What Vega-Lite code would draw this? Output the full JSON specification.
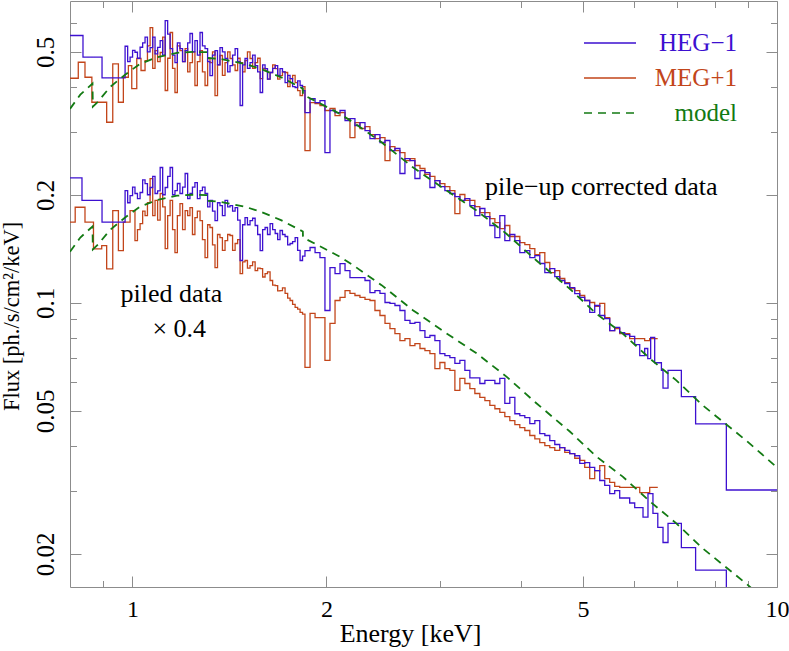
{
"$schema": "https://vega.github.io/schema/vega-lite/v6.json",
"width": 707, "height": 586, "autosize": "none",
"padding": {"left": 70, "top": 1, "right": 12, "bottom": 64},
"background": "white",
"datasets": {
"d": [
{"s":"MEG+1","g":"t","E":0.800,"F":0.4222},{"s":"MEG+1","g":"t","E":0.824,"F":0.4678},{"s":"MEG+1","g":"t","E":0.844,"F":0.4249},{"s":"MEG+1","g":"t","E":0.865,"F":0.3620},{"s":"MEG+1","g":"t","E":0.912,"F":0.3184},{"s":"MEG+1","g":"t","E":0.932,"F":0.4631},{"s":"MEG+1","g":"t","E":0.951,"F":0.3620},{"s":"MEG+1","g":"t","E":0.968,"F":0.4249},{"s":"MEG+1","g":"t","E":0.9855,"F":0.4581},{"s":"MEG+1","g":"t","E":0.9975,"F":0.3953},{"s":"MEG+1","g":"t","E":1.0155,"F":0.4792},{"s":"MEG+1","g":"t","E":1.031,"F":0.4437},{"s":"MEG+1","g":"t","E":1.046,"F":0.4730},{"s":"MEG+1","g":"t","E":1.065,"F":0.5845},{"s":"MEG+1","g":"t","E":1.084,"F":0.5044},{"s":"MEG+1","g":"t","E":1.104,"F":0.4980},{"s":"MEG+1","g":"t","E":1.124,"F":0.3903},{"s":"MEG+1","g":"t","E":1.144,"F":0.5662},{"s":"MEG+1","g":"t","E":1.164,"F":0.3853},{"s":"MEG+1","g":"t","E":1.185,"F":0.5044},{"s":"MEG+1","g":"t","E":1.207,"F":0.5109},{"s":"MEG+1","g":"t","E":1.228,"F":0.4670},{"s":"MEG+1","g":"t","E":1.250,"F":0.4030},{"s":"MEG+1","g":"t","E":1.273,"F":0.5044},{"s":"MEG+1","g":"t","E":1.296,"F":0.4030},{"s":"MEG+1","g":"t","E":1.319,"F":0.4670},{"s":"MEG+1","g":"t","E":1.343,"F":0.3779},{"s":"MEG+1","g":"t","E":1.367,"F":0.4885},{"s":"MEG+1","g":"t","E":1.392,"F":0.4670},{"s":"MEG+1","g":"t","E":1.417,"F":0.4792},{"s":"MEG+1","g":"t","E":1.443,"F":0.4437},{"s":"MEG+1","g":"t","E":1.469,"F":0.4670},{"s":"MEG+1","g":"t","E":1.495,"F":0.4730},{"s":"MEG+1","g":"t","E":1.522,"F":0.4792},{"s":"MEG+1","g":"t","E":1.550,"F":0.4670},{"s":"MEG+1","g":"t","E":1.578,"F":0.4214},{"s":"MEG+1","g":"t","E":1.606,"F":0.4437},{"s":"MEG+1","g":"t","E":1.635,"F":0.4381},{"s":"MEG+1","g":"t","E":1.665,"F":0.4494},{"s":"MEG+1","g":"t","E":1.694,"F":0.4296},{"s":"MEG+1","g":"t","E":1.725,"F":0.4381},{"s":"MEG+1","g":"t","E":1.756,"F":0.4214},{"s":"MEG+1","g":"t","E":1.788,"F":0.4108},{"s":"MEG+1","g":"t","E":1.820,"F":0.3779},{"s":"MEG+1","g":"t","E":1.852,"F":0.2656},{"s":"MEG+1","g":"t","E":1.886,"F":0.3613},{"s":"MEG+1","g":"t","E":1.920,"F":0.3591},{"s":"MEG+1","g":"t","E":1.954,"F":0.3545},{"s":"MEG+1","g":"t","E":1.989,"F":0.3433},{"s":"MEG+1","g":"t","E":2.025,"F":0.3478},{"s":"MEG+1","g":"t","E":2.062,"F":0.3324},{"s":"MEG+1","g":"t","E":2.099,"F":0.3389},{"s":"MEG+1","g":"t","E":2.137,"F":0.3261},{"s":"MEG+1","g":"t","E":2.175,"F":0.2887},{"s":"MEG+1","g":"t","E":2.214,"F":0.3178},{"s":"MEG+1","g":"t","E":2.254,"F":0.3059},{"s":"MEG+1","g":"t","E":2.295,"F":0.3098},{"s":"MEG+1","g":"t","E":2.336,"F":0.2943},{"s":"MEG+1","g":"t","E":2.378,"F":0.2868},{"s":"MEG+1","g":"t","E":2.421,"F":0.2887},{"s":"MEG+1","g":"t","E":2.465,"F":0.2491},{"s":"MEG+1","g":"t","E":2.509,"F":0.2725},{"s":"MEG+1","g":"t","E":2.554,"F":0.2656},{"s":"MEG+1","g":"t","E":2.600,"F":0.2622},{"s":"MEG+1","g":"t","E":2.647,"F":0.2491},{"s":"MEG+1","g":"t","E":2.695,"F":0.2523},{"s":"MEG+1","g":"t","E":2.743,"F":0.2413},{"s":"MEG+1","g":"t","E":2.793,"F":0.2367},{"s":"MEG+1","g":"t","E":2.843,"F":0.2278},{"s":"MEG+1","g":"t","E":2.894,"F":0.2249},{"s":"MEG+1","g":"t","E":2.946,"F":0.2191},{"s":"MEG+1","g":"t","E":2.999,"F":0.2149},{"s":"MEG+1","g":"t","E":3.053,"F":0.2108},{"s":"MEG+1","g":"t","E":3.108,"F":0.2055},{"s":"MEG+1","g":"t","E":3.164,"F":0.1773},{"s":"MEG+1","g":"t","E":3.221,"F":0.2003},{"s":"MEG+1","g":"t","E":3.279,"F":0.1928},{"s":"MEG+1","g":"t","E":3.338,"F":0.1928},{"s":"MEG+1","g":"t","E":3.398,"F":0.1854},{"s":"MEG+1","g":"t","E":3.459,"F":0.1784},{"s":"MEG+1","g":"t","E":3.522,"F":0.1784},{"s":"MEG+1","g":"t","E":3.585,"F":0.1717},{"s":"MEG+1","g":"t","E":3.650,"F":0.1673},{"s":"MEG+1","g":"t","E":3.715,"F":0.1610},{"s":"MEG+1","g":"t","E":3.782,"F":0.1642},{"s":"MEG+1","g":"t","E":3.850,"F":0.1530},{"s":"MEG+1","g":"t","E":3.920,"F":0.1530},{"s":"MEG+1","g":"t","E":3.990,"F":0.1472},{"s":"MEG+1","g":"t","E":4.062,"F":0.1453},{"s":"MEG+1","g":"t","E":4.135,"F":0.1416},{"s":"MEG+1","g":"t","E":4.210,"F":0.1363},{"s":"MEG+1","g":"t","E":4.285,"F":0.1380},{"s":"MEG+1","g":"t","E":4.363,"F":0.1295},{"s":"MEG+1","g":"t","E":4.441,"F":0.1214},{"s":"MEG+1","g":"t","E":4.521,"F":0.1230},{"s":"MEG+1","g":"t","E":4.602,"F":0.1169},{"s":"MEG+1","g":"t","E":4.685,"F":0.1139},{"s":"MEG+1","g":"t","E":4.769,"F":0.1096},{"s":"MEG+1","g":"t","E":4.855,"F":0.1082},{"s":"MEG+1","g":"t","E":4.943,"F":0.1048},{"s":"MEG+1","g":"t","E":5.031,"F":0.1015},{"s":"MEG+1","g":"t","E":5.122,"F":0.1002},{"s":"MEG+1","g":"t","E":5.214,"F":0.0977},{"s":"MEG+1","g":"t","E":5.309,"F":0.0996},{"s":"MEG+1","g":"t","E":5.404,"F":0.0910},{"s":"MEG+1","g":"t","E":5.501,"F":0.0837},{"s":"MEG+1","g":"t","E":5.600,"F":0.0848},{"s":"MEG+1","g":"t","E":5.701,"F":0.0821},{"s":"MEG+1","g":"t","E":5.804,"F":0.0821},{"s":"MEG+1","g":"t","E":5.908,"F":0.0795},{"s":"MEG+1","g":"t","E":6.015,"F":0.0795},{"s":"MEG+1","g":"t","E":6.124,"F":0.0795},{"s":"MEG+1","g":"t","E":6.233,"F":0.0785},{"s":"MEG+1","g":"t","E":6.346,"F":0.0795},{"s":"MEG+1","g":"t","E":6.530,"F":0.0795},
{"s":"MEG+1","g":"t","E":1.055,"F":0.52},{"s":"MEG+1","g":"t","E":1.075,"F":0.45},{"s":"MEG+1","g":"t","E":1.094,"F":0.47},{"s":"MEG+1","g":"t","E":1.114,"F":0.55},{"s":"MEG+1","g":"t","E":1.134,"F":0.48},{"s":"MEG+1","g":"t","E":1.154,"F":0.45},{"s":"MEG+1","g":"t","E":1.174,"F":0.52},{"s":"MEG+1","g":"t","E":1.196,"F":0.47},{"s":"MEG+1","g":"t","E":1.218,"F":0.44},{"s":"MEG+1","g":"t","E":1.239,"F":0.50},{"s":"MEG+1","g":"t","E":1.261,"F":0.47},{"s":"MEG+1","g":"t","E":1.284,"F":0.44},{"s":"MEG+1","g":"t","E":1.308,"F":0.48},{"s":"MEG+1","g":"t","E":1.331,"F":0.50},{"s":"MEG+1","g":"t","E":1.355,"F":0.46},{"s":"MEG+1","g":"t","E":1.379,"F":0.43},{"s":"MEG+1","g":"t","E":1.405,"F":0.50},{"s":"MEG+1","g":"t","E":1.430,"F":0.46},{"s":"MEG+1","g":"t","E":1.456,"F":0.48},{"s":"MEG+1","g":"t","E":1.482,"F":0.44},{"s":"MEG+1","g":"t","E":1.508,"F":0.50},{"s":"MEG+1","g":"t","E":1.536,"F":0.45},{"s":"MEG+1","g":"t","E":1.564,"F":0.48},{"s":"MEG+1","g":"t","E":1.592,"F":0.45},{"s":"MEG+1","g":"t","E":1.620,"F":0.42},{"s":"MEG+1","g":"t","E":1.650,"F":0.46},{"s":"MEG+1","g":"t","E":1.680,"F":0.42},{"s":"MEG+1","g":"t","E":1.709,"F":0.44},{"s":"MEG+1","g":"t","E":1.741,"F":0.40},{"s":"MEG+1","g":"t","E":1.772,"F":0.43},{"s":"MEG+1","g":"t","E":1.804,"F":0.39},{"s":"MEG+1","g":"t","E":1.836,"F":0.40},
{"s":"MEG+1","g":"b","E":0.800,"F":0.1677},{"s":"MEG+1","g":"b","E":0.815,"F":0.1846},{"s":"MEG+1","g":"b","E":0.844,"F":0.1677},{"s":"MEG+1","g":"b","E":0.870,"F":0.1414},{"s":"MEG+1","g":"b","E":0.896,"F":0.1444},{"s":"MEG+1","g":"b","E":0.912,"F":0.1243},{"s":"MEG+1","g":"b","E":0.932,"F":0.1807},{"s":"MEG+1","g":"b","E":0.951,"F":0.1398},{"s":"MEG+1","g":"b","E":0.968,"F":0.1677},{"s":"MEG+1","g":"b","E":0.9915,"F":0.1807},{"s":"MEG+1","g":"b","E":1.009,"F":0.1491},{"s":"MEG+1","g":"b","E":1.0276,"F":0.1663},{"s":"MEG+1","g":"b","E":1.046,"F":0.1750},{"s":"MEG+1","g":"b","E":1.065,"F":0.2219},{"s":"MEG+1","g":"b","E":1.084,"F":0.1928},{"s":"MEG+1","g":"b","E":1.104,"F":0.2016},{"s":"MEG+1","g":"b","E":1.124,"F":0.1416},{"s":"MEG+1","g":"b","E":1.144,"F":0.1928},{"s":"MEG+1","g":"b","E":1.164,"F":0.1380},{"s":"MEG+1","g":"b","E":1.185,"F":0.1890},{"s":"MEG+1","g":"b","E":1.207,"F":0.1807},{"s":"MEG+1","g":"b","E":1.228,"F":0.1842},{"s":"MEG+1","g":"b","E":1.250,"F":0.1728},{"s":"MEG+1","g":"b","E":1.273,"F":0.1695},{"s":"MEG+1","g":"b","E":1.296,"F":0.1337},{"s":"MEG+1","g":"b","E":1.319,"F":0.1621},{"s":"MEG+1","g":"b","E":1.343,"F":0.1254},{"s":"MEG+1","g":"b","E":1.367,"F":0.1520},{"s":"MEG+1","g":"b","E":1.392,"F":0.1491},{"s":"MEG+1","g":"b","E":1.417,"F":0.1540},{"s":"MEG+1","g":"b","E":1.443,"F":0.1463},{"s":"MEG+1","g":"b","E":1.469,"F":0.1206},{"s":"MEG+1","g":"b","E":1.495,"F":0.1312},{"s":"MEG+1","g":"b","E":1.522,"F":0.1270},{"s":"MEG+1","g":"b","E":1.550,"F":0.1230},{"s":"MEG+1","g":"b","E":1.578,"F":0.1246},{"s":"MEG+1","g":"b","E":1.606,"F":0.1206},{"s":"MEG+1","g":"b","E":1.635,"F":0.1154},{"s":"MEG+1","g":"b","E":1.665,"F":0.1117},{"s":"MEG+1","g":"b","E":1.694,"F":0.1082},{"s":"MEG+1","g":"b","E":1.725,"F":0.1062},{"s":"MEG+1","g":"b","E":1.756,"F":0.1015},{"s":"MEG+1","g":"b","E":1.788,"F":0.0971},{"s":"MEG+1","g":"b","E":1.820,"F":0.0940},{"s":"MEG+1","g":"b","E":1.852,"F":0.0661},{"s":"MEG+1","g":"b","E":1.886,"F":0.0934},{"s":"MEG+1","g":"b","E":1.920,"F":0.0910},{"s":"MEG+1","g":"b","E":1.954,"F":0.0910},{"s":"MEG+1","g":"b","E":1.989,"F":0.0691},{"s":"MEG+1","g":"b","E":2.025,"F":0.0876},{"s":"MEG+1","g":"b","E":2.062,"F":0.1015},{"s":"MEG+1","g":"b","E":2.099,"F":0.1035},{"s":"MEG+1","g":"b","E":2.137,"F":0.1082},{"s":"MEG+1","g":"b","E":2.175,"F":0.1062},{"s":"MEG+1","g":"b","E":2.214,"F":0.1048},{"s":"MEG+1","g":"b","E":2.254,"F":0.1035},{"s":"MEG+1","g":"b","E":2.295,"F":0.1022},{"s":"MEG+1","g":"b","E":2.336,"F":0.1015},{"s":"MEG+1","g":"b","E":2.378,"F":0.0952},{"s":"MEG+1","g":"b","E":2.421,"F":0.0922},{"s":"MEG+1","g":"b","E":2.465,"F":0.0876},{"s":"MEG+1","g":"b","E":2.509,"F":0.0848},{"s":"MEG+1","g":"b","E":2.554,"F":0.0821},{"s":"MEG+1","g":"b","E":2.600,"F":0.0785},{"s":"MEG+1","g":"b","E":2.647,"F":0.0795},{"s":"MEG+1","g":"b","E":2.695,"F":0.0760},{"s":"MEG+1","g":"b","E":2.743,"F":0.0770},{"s":"MEG+1","g":"b","E":2.793,"F":0.0746},{"s":"MEG+1","g":"b","E":2.843,"F":0.0736},{"s":"MEG+1","g":"b","E":2.894,"F":0.0722},{"s":"MEG+1","g":"b","E":2.946,"F":0.0656},{"s":"MEG+1","g":"b","E":2.999,"F":0.0682},{"s":"MEG+1","g":"b","E":3.053,"F":0.0656},{"s":"MEG+1","g":"b","E":3.108,"F":0.0648},{"s":"MEG+1","g":"b","E":3.164,"F":0.0570},{"s":"MEG+1","g":"b","E":3.221,"F":0.0616},{"s":"MEG+1","g":"b","E":3.279,"F":0.0596},{"s":"MEG+1","g":"b","E":3.338,"F":0.0577},{"s":"MEG+1","g":"b","E":3.398,"F":0.0559},{"s":"MEG+1","g":"b","E":3.459,"F":0.0545},{"s":"MEG+1","g":"b","E":3.522,"F":0.0534},{"s":"MEG+1","g":"b","E":3.585,"F":0.0518},{"s":"MEG+1","g":"b","E":3.650,"F":0.0507},{"s":"MEG+1","g":"b","E":3.715,"F":0.0495},{"s":"MEG+1","g":"b","E":3.782,"F":0.0482},{"s":"MEG+1","g":"b","E":3.850,"F":0.0470},{"s":"MEG+1","g":"b","E":3.920,"F":0.0458},{"s":"MEG+1","g":"b","E":3.990,"F":0.0449},{"s":"MEG+1","g":"b","E":4.062,"F":0.0441},{"s":"MEG+1","g":"b","E":4.135,"F":0.0427},{"s":"MEG+1","g":"b","E":4.210,"F":0.0418},{"s":"MEG+1","g":"b","E":4.285,"F":0.0408},{"s":"MEG+1","g":"b","E":4.363,"F":0.0400},{"s":"MEG+1","g":"b","E":4.441,"F":0.0395},{"s":"MEG+1","g":"b","E":4.521,"F":0.0388},{"s":"MEG+1","g":"b","E":4.602,"F":0.0395},{"s":"MEG+1","g":"b","E":4.685,"F":0.0383},{"s":"MEG+1","g":"b","E":4.769,"F":0.0380},{"s":"MEG+1","g":"b","E":4.855,"F":0.0369},{"s":"MEG+1","g":"b","E":4.943,"F":0.0364},{"s":"MEG+1","g":"b","E":5.031,"F":0.0348},{"s":"MEG+1","g":"b","E":5.122,"F":0.0324},{"s":"MEG+1","g":"b","E":5.214,"F":0.0341},{"s":"MEG+1","g":"b","E":5.309,"F":0.0352},{"s":"MEG+1","g":"b","E":5.404,"F":0.0324},{"s":"MEG+1","g":"b","E":5.501,"F":0.0316},{"s":"MEG+1","g":"b","E":5.600,"F":0.0308},{"s":"MEG+1","g":"b","E":5.701,"F":0.0306},{"s":"MEG+1","g":"b","E":6.124,"F":0.0296},{"s":"MEG+1","g":"b","E":6.346,"F":0.0306},{"s":"MEG+1","g":"b","E":6.532,"F":0.0306},
{"s":"MEG+1","g":"b","E":1.018,"F":0.160},{"s":"MEG+1","g":"b","E":1.037,"F":0.180},{"s":"MEG+1","g":"b","E":1.055,"F":0.190},{"s":"MEG+1","g":"b","E":1.075,"F":0.175},{"s":"MEG+1","g":"b","E":1.094,"F":0.170},{"s":"MEG+1","g":"b","E":1.114,"F":0.185},{"s":"MEG+1","g":"b","E":1.134,"F":0.175},{"s":"MEG+1","g":"b","E":1.154,"F":0.160},{"s":"MEG+1","g":"b","E":1.174,"F":0.175},{"s":"MEG+1","g":"b","E":1.196,"F":0.160},{"s":"MEG+1","g":"b","E":1.218,"F":0.175},{"s":"MEG+1","g":"b","E":1.239,"F":0.155},{"s":"MEG+1","g":"b","E":1.261,"F":0.180},{"s":"MEG+1","g":"b","E":1.284,"F":0.150},{"s":"MEG+1","g":"b","E":1.308,"F":0.165},{"s":"MEG+1","g":"b","E":1.331,"F":0.145},{"s":"MEG+1","g":"b","E":1.355,"F":0.155},{"s":"MEG+1","g":"b","E":1.379,"F":0.140},{"s":"MEG+1","g":"b","E":1.405,"F":0.155},{"s":"MEG+1","g":"b","E":1.430,"F":0.140},{"s":"MEG+1","g":"b","E":1.456,"F":0.150},{"s":"MEG+1","g":"b","E":1.482,"F":0.130},{"s":"MEG+1","g":"b","E":1.508,"F":0.125},{"s":"MEG+1","g":"b","E":1.536,"F":0.130},{"s":"MEG+1","g":"b","E":1.564,"F":0.125},{"s":"MEG+1","g":"b","E":1.592,"F":0.118},{"s":"MEG+1","g":"b","E":1.620,"F":0.122},{"s":"MEG+1","g":"b","E":1.650,"F":0.112},{"s":"MEG+1","g":"b","E":1.680,"F":0.108},{"s":"MEG+1","g":"b","E":1.709,"F":0.110},{"s":"MEG+1","g":"b","E":1.741,"F":0.103},{"s":"MEG+1","g":"b","E":1.772,"F":0.099},{"s":"MEG+1","g":"b","E":1.804,"F":0.096},{"s":"MEG+1","g":"b","E":1.836,"F":0.093},
{"s":"HEG−1","g":"t","E":0.800,"F":0.5554},{"s":"HEG−1","g":"t","E":0.838,"F":0.4832},{"s":"HEG−1","g":"t","E":0.897,"F":0.4233},{"s":"HEG−1","g":"t","E":0.974,"F":0.5185},{"s":"HEG−1","g":"t","E":0.9915,"F":0.4832},{"s":"HEG−1","g":"t","E":1.009,"F":0.4989},{"s":"HEG−1","g":"t","E":1.0276,"F":0.5151},{"s":"HEG−1","g":"t","E":1.046,"F":0.5494},{"s":"HEG−1","g":"t","E":1.065,"F":0.5142},{"s":"HEG−1","g":"t","E":1.084,"F":0.4938},{"s":"HEG−1","g":"t","E":1.104,"F":0.5378},{"s":"HEG−1","g":"t","E":1.124,"F":0.6114},{"s":"HEG−1","g":"t","E":1.144,"F":0.5109},{"s":"HEG−1","g":"t","E":1.164,"F":0.4670},{"s":"HEG−1","g":"t","E":1.185,"F":0.5109},{"s":"HEG−1","g":"t","E":1.207,"F":0.5044},{"s":"HEG−1","g":"t","E":1.228,"F":0.5626},{"s":"HEG−1","g":"t","E":1.250,"F":0.5378},{"s":"HEG−1","g":"t","E":1.273,"F":0.5662},{"s":"HEG−1","g":"t","E":1.296,"F":0.5109},{"s":"HEG−1","g":"t","E":1.319,"F":0.4296},{"s":"HEG−1","g":"t","E":1.343,"F":0.5044},{"s":"HEG−1","g":"t","E":1.367,"F":0.5142},{"s":"HEG−1","g":"t","E":1.392,"F":0.4792},{"s":"HEG−1","g":"t","E":1.417,"F":0.4581},{"s":"HEG−1","g":"t","E":1.443,"F":0.5109},{"s":"HEG−1","g":"t","E":1.469,"F":0.3545},{"s":"HEG−1","g":"t","E":1.495,"F":0.4792},{"s":"HEG−1","g":"t","E":1.522,"F":0.4670},{"s":"HEG−1","g":"t","E":1.550,"F":0.4581},{"s":"HEG−1","g":"t","E":1.578,"F":0.3853},{"s":"HEG−1","g":"t","E":1.606,"F":0.4494},{"s":"HEG−1","g":"t","E":1.635,"F":0.4381},{"s":"HEG−1","g":"t","E":1.665,"F":0.4581},{"s":"HEG−1","g":"t","E":1.694,"F":0.4494},{"s":"HEG−1","g":"t","E":1.725,"F":0.4108},{"s":"HEG−1","g":"t","E":1.756,"F":0.4214},{"s":"HEG−1","g":"t","E":1.788,"F":0.3979},{"s":"HEG−1","g":"t","E":1.820,"F":0.4030},{"s":"HEG−1","g":"t","E":1.852,"F":0.3389},{"s":"HEG−1","g":"t","E":1.886,"F":0.3707},{"s":"HEG−1","g":"t","E":1.920,"F":0.3613},{"s":"HEG−1","g":"t","E":1.954,"F":0.3660},{"s":"HEG−1","g":"t","E":1.989,"F":0.2622},{"s":"HEG−1","g":"t","E":2.025,"F":0.3433},{"s":"HEG−1","g":"t","E":2.062,"F":0.3389},{"s":"HEG−1","g":"t","E":2.099,"F":0.3433},{"s":"HEG−1","g":"t","E":2.137,"F":0.3219},{"s":"HEG−1","g":"t","E":2.175,"F":0.3261},{"s":"HEG−1","g":"t","E":2.214,"F":0.3118},{"s":"HEG−1","g":"t","E":2.254,"F":0.3178},{"s":"HEG−1","g":"t","E":2.295,"F":0.3019},{"s":"HEG−1","g":"t","E":2.336,"F":0.2868},{"s":"HEG−1","g":"t","E":2.378,"F":0.2943},{"s":"HEG−1","g":"t","E":2.421,"F":0.2796},{"s":"HEG−1","g":"t","E":2.465,"F":0.2832},{"s":"HEG−1","g":"t","E":2.509,"F":0.2656},{"s":"HEG−1","g":"t","E":2.554,"F":0.2691},{"s":"HEG−1","g":"t","E":2.600,"F":0.2292},{"s":"HEG−1","g":"t","E":2.647,"F":0.2523},{"s":"HEG−1","g":"t","E":2.695,"F":0.2491},{"s":"HEG−1","g":"t","E":2.743,"F":0.2220},{"s":"HEG−1","g":"t","E":2.793,"F":0.2336},{"s":"HEG−1","g":"t","E":2.843,"F":0.2306},{"s":"HEG−1","g":"t","E":2.894,"F":0.2095},{"s":"HEG−1","g":"t","E":2.946,"F":0.2191},{"s":"HEG−1","g":"t","E":2.999,"F":0.2108},{"s":"HEG−1","g":"t","E":3.053,"F":0.2055},{"s":"HEG−1","g":"t","E":3.108,"F":0.2016},{"s":"HEG−1","g":"t","E":3.164,"F":0.1977},{"s":"HEG−1","g":"t","E":3.221,"F":0.1928},{"s":"HEG−1","g":"t","E":3.279,"F":0.1952},{"s":"HEG−1","g":"t","E":3.338,"F":0.1866},{"s":"HEG−1","g":"t","E":3.398,"F":0.1750},{"s":"HEG−1","g":"t","E":3.459,"F":0.1831},{"s":"HEG−1","g":"t","E":3.522,"F":0.1739},{"s":"HEG−1","g":"t","E":3.585,"F":0.1642},{"s":"HEG−1","g":"t","E":3.650,"F":0.1520},{"s":"HEG−1","g":"t","E":3.715,"F":0.1750},{"s":"HEG−1","g":"t","E":3.782,"F":0.1491},{"s":"HEG−1","g":"t","E":3.850,"F":0.1550},{"s":"HEG−1","g":"t","E":3.920,"F":0.1491},{"s":"HEG−1","g":"t","E":3.990,"F":0.1380},{"s":"HEG−1","g":"t","E":4.062,"F":0.1398},{"s":"HEG−1","g":"t","E":4.135,"F":0.1337},{"s":"HEG−1","g":"t","E":4.210,"F":0.1354},{"s":"HEG−1","g":"t","E":4.285,"F":0.1287},{"s":"HEG−1","g":"t","E":4.363,"F":0.1214},{"s":"HEG−1","g":"t","E":4.441,"F":0.1246},{"s":"HEG−1","g":"t","E":4.521,"F":0.1183},{"s":"HEG−1","g":"t","E":4.602,"F":0.1154},{"s":"HEG−1","g":"t","E":4.685,"F":0.1132},{"s":"HEG−1","g":"t","E":4.769,"F":0.1103},{"s":"HEG−1","g":"t","E":4.855,"F":0.1061},{"s":"HEG−1","g":"t","E":4.943,"F":0.1035},{"s":"HEG−1","g":"t","E":5.031,"F":0.1015},{"s":"HEG−1","g":"t","E":5.122,"F":0.0940},{"s":"HEG−1","g":"t","E":5.214,"F":0.0983},{"s":"HEG−1","g":"t","E":5.309,"F":0.0922},{"s":"HEG−1","g":"t","E":5.404,"F":0.0904},{"s":"HEG−1","g":"t","E":5.501,"F":0.0837},{"s":"HEG−1","g":"t","E":5.600,"F":0.0854},{"s":"HEG−1","g":"t","E":5.701,"F":0.0826},{"s":"HEG−1","g":"t","E":5.804,"F":0.0816},{"s":"HEG−1","g":"t","E":5.908,"F":0.0806},{"s":"HEG−1","g":"t","E":6.015,"F":0.0765},{"s":"HEG−1","g":"t","E":6.124,"F":0.0713},{"s":"HEG−1","g":"t","E":6.233,"F":0.0746},{"s":"HEG−1","g":"t","E":6.302,"F":0.0699},{"s":"HEG−1","g":"t","E":6.368,"F":0.0801},{"s":"HEG−1","g":"t","E":6.460,"F":0.0681},{"s":"HEG−1","g":"t","E":6.617,"F":0.0648},{"s":"HEG−1","g":"t","E":6.655,"F":0.0579},{"s":"HEG−1","g":"t","E":6.775,"F":0.0648},{"s":"HEG−1","g":"t","E":7.106,"F":0.0548},{"s":"HEG−1","g":"t","E":7.477,"F":0.0460},{"s":"HEG−1","g":"t","E":8.345,"F":0.0301},{"s":"HEG−1","g":"t","E":10.0,"F":0.0301},
{"s":"HEG−1","g":"t","E":0.983,"F":0.47},{"s":"HEG−1","g":"t","E":1.0004,"F":0.505},{"s":"HEG−1","g":"t","E":1.018,"F":0.48},{"s":"HEG−1","g":"t","E":1.037,"F":0.53},{"s":"HEG−1","g":"t","E":1.055,"F":0.50},{"s":"HEG−1","g":"t","E":1.075,"F":0.55},{"s":"HEG−1","g":"t","E":1.094,"F":0.515},{"s":"HEG−1","g":"t","E":1.114,"F":0.49},{"s":"HEG−1","g":"t","E":1.134,"F":0.56},{"s":"HEG−1","g":"t","E":1.154,"F":0.49},{"s":"HEG−1","g":"t","E":1.174,"F":0.53},{"s":"HEG−1","g":"t","E":1.196,"F":0.47},{"s":"HEG−1","g":"t","E":1.218,"F":0.53},{"s":"HEG−1","g":"t","E":1.239,"F":0.50},{"s":"HEG−1","g":"t","E":1.261,"F":0.49},{"s":"HEG−1","g":"t","E":1.284,"F":0.52},{"s":"HEG−1","g":"t","E":1.308,"F":0.47},{"s":"HEG−1","g":"t","E":1.331,"F":0.49},{"s":"HEG−1","g":"t","E":1.355,"F":0.46},{"s":"HEG−1","g":"t","E":1.379,"F":0.50},{"s":"HEG−1","g":"t","E":1.405,"F":0.44},{"s":"HEG−1","g":"t","E":1.430,"F":0.49},{"s":"HEG−1","g":"t","E":1.456,"F":0.47},{"s":"HEG−1","g":"t","E":1.482,"F":0.46},{"s":"HEG−1","g":"t","E":1.508,"F":0.45},{"s":"HEG−1","g":"t","E":1.536,"F":0.49},{"s":"HEG−1","g":"t","E":1.564,"F":0.44},{"s":"HEG−1","g":"t","E":1.592,"F":0.46},{"s":"HEG−1","g":"t","E":1.620,"F":0.42},{"s":"HEG−1","g":"t","E":1.650,"F":0.45},{"s":"HEG−1","g":"t","E":1.680,"F":0.43},{"s":"HEG−1","g":"t","E":1.709,"F":0.44},{"s":"HEG−1","g":"t","E":1.741,"F":0.43},{"s":"HEG−1","g":"t","E":1.772,"F":0.40},{"s":"HEG−1","g":"t","E":1.804,"F":0.415},{"s":"HEG−1","g":"t","E":1.836,"F":0.39},
{"s":"HEG−1","g":"b","E":0.800,"F":0.2230},{"s":"HEG−1","g":"b","E":0.835,"F":0.1928},{"s":"HEG−1","g":"b","E":0.897,"F":0.1677},{"s":"HEG−1","g":"b","E":0.974,"F":0.2055},{"s":"HEG−1","g":"b","E":0.9915,"F":0.1990},{"s":"HEG−1","g":"b","E":1.009,"F":0.2016},{"s":"HEG−1","g":"b","E":1.0276,"F":0.2029},{"s":"HEG−1","g":"b","E":1.046,"F":0.2149},{"s":"HEG−1","g":"b","E":1.065,"F":0.2095},{"s":"HEG−1","g":"b","E":1.084,"F":0.2016},{"s":"HEG−1","g":"b","E":1.104,"F":0.2382},{"s":"HEG−1","g":"b","E":1.124,"F":0.2095},{"s":"HEG−1","g":"b","E":1.144,"F":0.2382},{"s":"HEG−1","g":"b","E":1.164,"F":0.2055},{"s":"HEG−1","g":"b","E":1.185,"F":0.2016},{"s":"HEG−1","g":"b","E":1.207,"F":0.2292},{"s":"HEG−1","g":"b","E":1.228,"F":0.2016},{"s":"HEG−1","g":"b","E":1.250,"F":0.2163},{"s":"HEG−1","g":"b","E":1.273,"F":0.2055},{"s":"HEG−1","g":"b","E":1.296,"F":0.2016},{"s":"HEG−1","g":"b","E":1.319,"F":0.1928},{"s":"HEG−1","g":"b","E":1.343,"F":0.1695},{"s":"HEG−1","g":"b","E":1.367,"F":0.1866},{"s":"HEG−1","g":"b","E":1.392,"F":0.1928},{"s":"HEG−1","g":"b","E":1.417,"F":0.1866},{"s":"HEG−1","g":"b","E":1.443,"F":0.1842},{"s":"HEG−1","g":"b","E":1.469,"F":0.1312},{"s":"HEG−1","g":"b","E":1.495,"F":0.1728},{"s":"HEG−1","g":"b","E":1.522,"F":0.1695},{"s":"HEG−1","g":"b","E":1.550,"F":0.1642},{"s":"HEG−1","g":"b","E":1.578,"F":0.1398},{"s":"HEG−1","g":"b","E":1.606,"F":0.1621},{"s":"HEG−1","g":"b","E":1.635,"F":0.1663},{"s":"HEG−1","g":"b","E":1.665,"F":0.1560},{"s":"HEG−1","g":"b","E":1.694,"F":0.1590},{"s":"HEG−1","g":"b","E":1.725,"F":0.1530},{"s":"HEG−1","g":"b","E":1.756,"F":0.1463},{"s":"HEG−1","g":"b","E":1.788,"F":0.1520},{"s":"HEG−1","g":"b","E":1.820,"F":0.1312},{"s":"HEG−1","g":"b","E":1.852,"F":0.1398},{"s":"HEG−1","g":"b","E":1.886,"F":0.1426},{"s":"HEG−1","g":"b","E":1.920,"F":0.1380},{"s":"HEG−1","g":"b","E":1.954,"F":0.1337},{"s":"HEG−1","g":"b","E":1.989,"F":0.0952},{"s":"HEG−1","g":"b","E":2.025,"F":0.1254},{"s":"HEG−1","g":"b","E":2.062,"F":0.1206},{"s":"HEG−1","g":"b","E":2.099,"F":0.1286},{"s":"HEG−1","g":"b","E":2.137,"F":0.1230},{"s":"HEG−1","g":"b","E":2.175,"F":0.1176},{"s":"HEG−1","g":"b","E":2.254,"F":0.1176},{"s":"HEG−1","g":"b","E":2.295,"F":0.1154},{"s":"HEG−1","g":"b","E":2.336,"F":0.1068},{"s":"HEG−1","g":"b","E":2.378,"F":0.1082},{"s":"HEG−1","g":"b","E":2.421,"F":0.1062},{"s":"HEG−1","g":"b","E":2.465,"F":0.1002},{"s":"HEG−1","g":"b","E":2.509,"F":0.0996},{"s":"HEG−1","g":"b","E":2.554,"F":0.0983},{"s":"HEG−1","g":"b","E":2.600,"F":0.0952},{"s":"HEG−1","g":"b","E":2.647,"F":0.0893},{"s":"HEG−1","g":"b","E":2.695,"F":0.0876},{"s":"HEG−1","g":"b","E":2.743,"F":0.0882},{"s":"HEG−1","g":"b","E":2.793,"F":0.0837},{"s":"HEG−1","g":"b","E":2.843,"F":0.0801},{"s":"HEG−1","g":"b","E":2.894,"F":0.0811},{"s":"HEG−1","g":"b","E":2.946,"F":0.0785},{"s":"HEG−1","g":"b","E":2.999,"F":0.0722},{"s":"HEG−1","g":"b","E":3.053,"F":0.0713},{"s":"HEG−1","g":"b","E":3.108,"F":0.0704},{"s":"HEG−1","g":"b","E":3.164,"F":0.0678},{"s":"HEG−1","g":"b","E":3.221,"F":0.0691},{"s":"HEG−1","g":"b","E":3.279,"F":0.0648},{"s":"HEG−1","g":"b","E":3.338,"F":0.0618},{"s":"HEG−1","g":"b","E":3.459,"F":0.0596},{"s":"HEG−1","g":"b","E":3.522,"F":0.0608},{"s":"HEG−1","g":"b","E":3.650,"F":0.0596},{"s":"HEG−1","g":"b","E":3.715,"F":0.0616},{"s":"HEG−1","g":"b","E":3.782,"F":0.0525},{"s":"HEG−1","g":"b","E":3.850,"F":0.0545},{"s":"HEG−1","g":"b","E":3.920,"F":0.0491},{"s":"HEG−1","g":"b","E":3.990,"F":0.0485},{"s":"HEG−1","g":"b","E":4.062,"F":0.0479},{"s":"HEG−1","g":"b","E":4.135,"F":0.0461},{"s":"HEG−1","g":"b","E":4.210,"F":0.0470},{"s":"HEG−1","g":"b","E":4.285,"F":0.0432},{"s":"HEG−1","g":"b","E":4.363,"F":0.0427},{"s":"HEG−1","g":"b","E":4.441,"F":0.0413},{"s":"HEG−1","g":"b","E":4.521,"F":0.0403},{"s":"HEG−1","g":"b","E":4.602,"F":0.0395},{"s":"HEG−1","g":"b","E":4.685,"F":0.0388},{"s":"HEG−1","g":"b","E":4.769,"F":0.0380},{"s":"HEG−1","g":"b","E":4.855,"F":0.0375},{"s":"HEG−1","g":"b","E":4.943,"F":0.0357},{"s":"HEG−1","g":"b","E":5.031,"F":0.0359},{"s":"HEG−1","g":"b","E":5.122,"F":0.0348},{"s":"HEG−1","g":"b","E":5.214,"F":0.0341},{"s":"HEG−1","g":"b","E":5.309,"F":0.0320},{"s":"HEG−1","g":"b","E":5.404,"F":0.0310},{"s":"HEG−1","g":"b","E":5.501,"F":0.0294},{"s":"HEG−1","g":"b","E":5.600,"F":0.0300},{"s":"HEG−1","g":"b","E":5.701,"F":0.0286},{"s":"HEG−1","g":"b","E":5.908,"F":0.0277},{"s":"HEG−1","g":"b","E":6.015,"F":0.0269},{"s":"HEG−1","g":"b","E":6.196,"F":0.0253},{"s":"HEG−1","g":"b","E":6.307,"F":0.0294},{"s":"HEG−1","g":"b","E":6.420,"F":0.0259},{"s":"HEG−1","g":"b","E":6.532,"F":0.0237},{"s":"HEG−1","g":"b","E":6.655,"F":0.0215},{"s":"HEG−1","g":"b","E":6.775,"F":0.0243},{"s":"HEG−1","g":"b","E":7.106,"F":0.0208},{"s":"HEG−1","g":"b","E":7.477,"F":0.0180},{"s":"HEG−1","g":"b","E":8.345,"F":0.0120},{"s":"HEG−1","g":"b","E":10.0,"F":0.0120},
{"s":"HEG−1","g":"b","E":0.983,"F":0.190},{"s":"HEG−1","g":"b","E":1.0004,"F":0.210},{"s":"HEG−1","g":"b","E":1.018,"F":0.195},{"s":"HEG−1","g":"b","E":1.037,"F":0.220},{"s":"HEG−1","g":"b","E":1.055,"F":0.200},{"s":"HEG−1","g":"b","E":1.075,"F":0.225},{"s":"HEG−1","g":"b","E":1.094,"F":0.205},{"s":"HEG−1","g":"b","E":1.114,"F":0.200},{"s":"HEG−1","g":"b","E":1.134,"F":0.225},{"s":"HEG−1","g":"b","E":1.154,"F":0.200},{"s":"HEG−1","g":"b","E":1.174,"F":0.215},{"s":"HEG−1","g":"b","E":1.196,"F":0.210},{"s":"HEG−1","g":"b","E":1.218,"F":0.195},{"s":"HEG−1","g":"b","E":1.239,"F":0.210},{"s":"HEG−1","g":"b","E":1.261,"F":0.195},{"s":"HEG−1","g":"b","E":1.284,"F":0.210},{"s":"HEG−1","g":"b","E":1.308,"F":0.185},{"s":"HEG−1","g":"b","E":1.331,"F":0.180},{"s":"HEG−1","g":"b","E":1.355,"F":0.190},{"s":"HEG−1","g":"b","E":1.379,"F":0.175},{"s":"HEG−1","g":"b","E":1.405,"F":0.185},{"s":"HEG−1","g":"b","E":1.430,"F":0.180},{"s":"HEG−1","g":"b","E":1.456,"F":0.170},{"s":"HEG−1","g":"b","E":1.482,"F":0.165},{"s":"HEG−1","g":"b","E":1.508,"F":0.165},{"s":"HEG−1","g":"b","E":1.536,"F":0.172},{"s":"HEG−1","g":"b","E":1.564,"F":0.155},{"s":"HEG−1","g":"b","E":1.592,"F":0.160},{"s":"HEG−1","g":"b","E":1.620,"F":0.155},{"s":"HEG−1","g":"b","E":1.650,"F":0.160},{"s":"HEG−1","g":"b","E":1.680,"F":0.150},{"s":"HEG−1","g":"b","E":1.709,"F":0.155},{"s":"HEG−1","g":"b","E":1.741,"F":0.145},{"s":"HEG−1","g":"b","E":1.772,"F":0.148},{"s":"HEG−1","g":"b","E":1.804,"F":0.140},{"s":"HEG−1","g":"b","E":1.836,"F":0.135},
{"s":"model","g":"t","E":0.800,"F":0.347},{"s":"model","g":"t","E":0.830,"F":0.380},{"s":"model","g":"t","E":0.867,"F":0.408},{"s":"model","g":"t","E":0.868,"F":0.352},{"s":"model","g":"t","E":0.885,"F":0.364},{"s":"model","g":"t","E":0.923,"F":0.399},{"s":"model","g":"t","E":0.974,"F":0.432},{"s":"model","g":"t","E":1.027,"F":0.463},{"s":"model","g":"t","E":1.091,"F":0.483},{"s":"model","g":"t","E":1.172,"F":0.497},{"s":"model","g":"t","E":1.240,"F":0.500},{"s":"model","g":"t","E":1.302,"F":0.499},{"s":"model","g":"t","E":1.303,"F":0.481},{"s":"model","g":"t","E":1.367,"F":0.478},{"s":"model","g":"t","E":1.495,"F":0.463},{"s":"model","g":"t","E":1.578,"F":0.449},{"s":"model","g":"t","E":1.700,"F":0.425},{"s":"model","g":"t","E":1.838,"F":0.395},{"s":"model","g":"t","E":1.839,"F":0.380},{"s":"model","g":"t","E":1.950,"F":0.360},{"s":"model","g":"t","E":2.099,"F":0.336},{"s":"model","g":"t","E":2.198,"F":0.3185},{"s":"model","g":"t","E":2.435,"F":0.280},{"s":"model","g":"t","E":2.723,"F":0.2385},{"s":"model","g":"t","E":3.071,"F":0.2055},{"s":"model","g":"t","E":3.419,"F":0.1807},{"s":"model","g":"t","E":3.804,"F":0.1557},{"s":"model","g":"t","E":4.234,"F":0.1312},{"s":"model","g":"t","E":4.770,"F":0.1094},{"s":"model","g":"t","E":5.246,"F":0.0932},{"s":"model","g":"t","E":5.763,"F":0.0821},{"s":"model","g":"t","E":6.347,"F":0.0700},{"s":"model","g":"t","E":6.980,"F":0.0608},{"s":"model","g":"t","E":7.670,"F":0.0518},{"s":"model","g":"t","E":8.964,"F":0.0413},{"s":"model","g":"t","E":10.0,"F":0.0348},
{"s":"model","g":"b","E":0.800,"F":0.1388},{"s":"model","g":"b","E":0.830,"F":0.152},{"s":"model","g":"b","E":0.867,"F":0.1632},{"s":"model","g":"b","E":0.868,"F":0.1408},{"s":"model","g":"b","E":0.885,"F":0.1456},{"s":"model","g":"b","E":0.923,"F":0.1596},{"s":"model","g":"b","E":0.974,"F":0.1728},{"s":"model","g":"b","E":1.027,"F":0.1852},{"s":"model","g":"b","E":1.091,"F":0.1932},{"s":"model","g":"b","E":1.172,"F":0.1988},{"s":"model","g":"b","E":1.240,"F":0.2000},{"s":"model","g":"b","E":1.302,"F":0.1996},{"s":"model","g":"b","E":1.303,"F":0.1924},{"s":"model","g":"b","E":1.367,"F":0.1912},{"s":"model","g":"b","E":1.495,"F":0.1852},{"s":"model","g":"b","E":1.578,"F":0.1796},{"s":"model","g":"b","E":1.700,"F":0.170},{"s":"model","g":"b","E":1.838,"F":0.158},{"s":"model","g":"b","E":1.839,"F":0.152},{"s":"model","g":"b","E":1.950,"F":0.144},{"s":"model","g":"b","E":2.099,"F":0.1344},{"s":"model","g":"b","E":2.198,"F":0.1274},{"s":"model","g":"b","E":2.435,"F":0.112},{"s":"model","g":"b","E":2.723,"F":0.0954},{"s":"model","g":"b","E":3.071,"F":0.0822},{"s":"model","g":"b","E":3.419,"F":0.0723},{"s":"model","g":"b","E":3.804,"F":0.0623},{"s":"model","g":"b","E":4.234,"F":0.0525},{"s":"model","g":"b","E":4.770,"F":0.0438},{"s":"model","g":"b","E":5.246,"F":0.0373},{"s":"model","g":"b","E":5.763,"F":0.0328},{"s":"model","g":"b","E":6.347,"F":0.0280},{"s":"model","g":"b","E":6.980,"F":0.0243},{"s":"model","g":"b","E":7.670,"F":0.0207},{"s":"model","g":"b","E":8.964,"F":0.0165},{"s":"model","g":"b","E":10.0,"F":0.0139}
]
},
"resolve": {"axis": {"x": "independent", "y": "independent"}},
"layer": [
{
"data": {"name": "d"},
"transform": [{"filter": "datum.s === 'MEG+1'"}],
"mark": {"type": "line", "interpolate": "step-after", "strokeWidth": 1.3, "clip": true},
"encoding": {
"x": {"field": "E", "type": "quantitative", "scale": {"type": "log", "domain": [0.8, 10], "nice": false},
"axis": {"orient": "bottom", "values": [1, 2, 5, 10], "format": "~g", "ticks": false, "labelFontSize": 24, "labelPadding": 29, "labelBaseline": "alphabetic", "labelAngle": 0, "title": "Energy [keV]", "titleFontSize": 26, "titleX": 340, "titleY": 54, "titleBaseline": "alphabetic", "titleAlign": "center"}},
"y": {"field": "F", "type": "quantitative", "scale": {"type": "log", "domain": [0.01616, 0.693], "nice": false},
"axis": {"orient": "left", "values": [0.02, 0.05, 0.1, 0.2, 0.5], "format": "~g", "ticks": false, "labelAngle": 270, "labelAlign": "center", "labelBaseline": "alphabetic", "labelPadding": 17, "title": "Flux [ph./s/cm²/keV]", "titleFontSize": 22.5, "titleAngle": 270, "titleX": -59, "titleY": 315, "titleAlign": "center", "titleBaseline": "middle"}},
"color": {"field": "s", "type": "nominal", "scale": {"domain": ["HEG−1", "MEG+1", "model"], "range": ["#3d10d0", "#c2451a", "#137a13"]},
"legend": {"title": null, "orient": "none", "legendX": 513, "legendY": 24.5, "symbolType": "stroke", "symbolSize": 2704, "symbolStrokeWidth": 1.4, "clipHeight": 35, "rowPadding": 0, "padding": 0, "labelFont": "Liberation Serif", "labelFontSize": 25, "labelAlign": "right", "labelOffset": 100, "labelLimit": 300,
"encode": {"labels": {"update": {"fill": {"signal": "datum.value === 'HEG−1' ? '#3d10d0' : (datum.value === 'MEG+1' ? '#c2451a' : '#137a13')"}}}}}},
"strokeDash": {"field": "s", "type": "nominal", "scale": {"domain": ["HEG−1", "MEG+1", "model"], "range": [[1, 0], [1, 0], [8, 6]]},
"legend": {"title": null, "orient": "none", "legendX": 513, "legendY": 24.5, "symbolType": "stroke", "symbolSize": 2704, "symbolStrokeWidth": 1.4, "clipHeight": 35, "rowPadding": 0, "padding": 0, "labelFont": "Liberation Serif", "labelFontSize": 25, "labelAlign": "right", "labelOffset": 100, "labelLimit": 300,
"encode": {"labels": {"update": {"fill": {"signal": "datum.value === 'HEG−1' ? '#3d10d0' : (datum.value === 'MEG+1' ? '#c2451a' : '#137a13')"}}}}}},
"detail": {"field": "g"}
}
},
{
"data": {"name": "d"},
"transform": [{"filter": "datum.s === 'HEG−1'"}],
"mark": {"type": "line", "interpolate": "step-after", "strokeWidth": 1.3, "clip": true},
"encoding": {
"x": {"field": "E", "type": "quantitative", "scale": {"type": "log", "domain": [0.8, 10], "nice": false},
"axis": {"orient": "bottom", "values": [1, 2, 5, 10], "labels": false, "tickSize": -11, "title": null}},
"y": {"field": "F", "type": "quantitative", "scale": {"type": "log", "domain": [0.01616, 0.693], "nice": false},
"axis": {"orient": "left", "values": [0.02, 0.05, 0.1, 0.2, 0.5], "labels": false, "tickSize": -11, "title": null}},
"color": {"field": "s", "type": "nominal", "scale": {"domain": ["HEG−1", "MEG+1", "model"], "range": ["#3d10d0", "#c2451a", "#137a13"]}},
"strokeDash": {"field": "s", "type": "nominal", "scale": {"domain": ["HEG−1", "MEG+1", "model"], "range": [[1, 0], [1, 0], [8, 6]]}},
"detail": {"field": "g"}
}
},
{
"data": {"name": "d"},
"transform": [{"filter": "datum.s === 'model'"}],
"mark": {"type": "line", "strokeWidth": 1.8, "clip": true},
"encoding": {
"x": {"field": "E", "type": "quantitative", "scale": {"type": "log", "domain": [0.8, 10], "nice": false},
"axis": {"orient": "bottom", "values": [0.9, 3, 4, 6, 7, 8, 9], "labels": false, "tickSize": -6.5, "title": null}},
"y": {"field": "F", "type": "quantitative", "scale": {"type": "log", "domain": [0.01616, 0.693], "nice": false},
"axis": {"orient": "left", "values": [0.03, 0.04, 0.06, 0.07, 0.08, 0.09, 0.3, 0.4, 0.6], "labels": false, "tickSize": -6.5, "title": null}},
"color": {"field": "s", "type": "nominal", "scale": {"domain": ["HEG−1", "MEG+1", "model"], "range": ["#3d10d0", "#c2451a", "#137a13"]}},
"strokeDash": {"field": "s", "type": "nominal", "scale": {"domain": ["HEG−1", "MEG+1", "model"], "range": [[1, 0], [1, 0], [8, 6]]}},
"detail": {"field": "g"}
}
},
{
"data": {"values": [{"E": 5.337, "F": 0.1996, "t": "pile−up corrected data"}]},
"mark": {"type": "text", "font": "Liberation Serif", "fontSize": 26, "align": "center", "baseline": "alphabetic", "color": "#000"},
"encoding": {
"x": {"field": "E", "type": "quantitative", "scale": {"type": "log", "domain": [0.8, 10], "nice": false},
"axis": {"orient": "top", "values": [1, 2, 5, 10], "labels": false, "tickSize": -11, "title": null}},
"y": {"field": "F", "type": "quantitative", "scale": {"type": "log", "domain": [0.01616, 0.693], "nice": false},
"axis": {"orient": "right", "values": [0.02, 0.05, 0.1, 0.2, 0.5], "labels": false, "tickSize": -11, "title": null}},
"text": {"field": "t"}
}
},
{
"data": {"values": [{"E": 1.149, "F": 0.1005, "t": "piled data"}, {"E": 1.182, "F": 0.0802, "t": "× 0.4"}]},
"mark": {"type": "text", "font": "Liberation Serif", "fontSize": 26, "align": "center", "baseline": "alphabetic", "color": "#000"},
"encoding": {
"x": {"field": "E", "type": "quantitative", "scale": {"type": "log", "domain": [0.8, 10], "nice": false},
"axis": {"orient": "top", "values": [0.9, 3, 4, 6, 7, 8, 9], "labels": false, "tickSize": -6.5, "title": null}},
"y": {"field": "F", "type": "quantitative", "scale": {"type": "log", "domain": [0.01616, 0.693], "nice": false},
"axis": {"orient": "right", "values": [0.03, 0.04, 0.06, 0.07, 0.08, 0.09, 0.3, 0.4, 0.6], "labels": false, "tickSize": -6.5, "title": null}},
"text": {"field": "t"}
}
}
],
"config": {
"view": {"stroke": "#8c8c8c", "strokeWidth": 1},
"text": {"font": "Liberation Serif"},
"axis": {"grid": false, "domain": false, "tickColor": "#8c8c8c", "tickWidth": 1, "labelFont": "Liberation Serif", "labelFontSize": 25, "labelColor": "#000", "titleFont": "Liberation Serif", "titleFontWeight": "normal", "titleColor": "#000", "labelFlush": false, "labelOverlap": false}
}
}
